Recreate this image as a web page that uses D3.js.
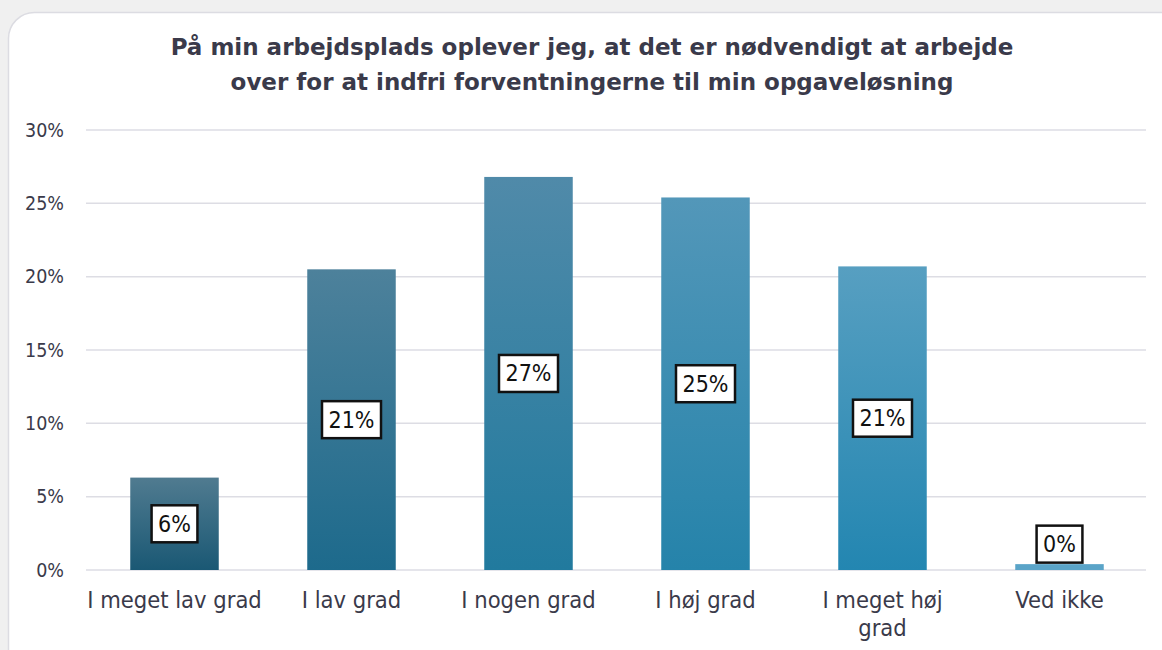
<!DOCTYPE html>
<html><head><meta charset="utf-8">
<script src="https://cdn.jsdelivr.net/npm/d3@7"></script>
<style>
html,body{margin:0;padding:0;background:#f0f0f0;}
svg{display:block;}
</style></head>
<body>
<svg id="chart" width="1162" height="650"></svg>
<script>
const categories = ["I meget lav grad", "I lav grad", "I nogen grad", "I høj grad", "I meget høj grad", "Ved ikke"];
const values = [6.3, 20.5, 26.8, 25.4, 20.7, 0.4];
const labels = ["6%", "21%", "27%", "25%", "21%", "0%"];
const yTicks = [0, 5, 10, 15, 20, 25, 30];
const topColors = ["#507b90", "#4d819b", "#508aa9", "#5397b9", "#579fc1", "#5aa4c8"];
const bottomColors = ["#1a5874", "#1d6a8c", "#217a9e", "#2583aa", "#2386b1", "#5aa4c8"];
const titleLines = ["På min arbejdsplads oplever jeg, at det er nødvendigt at arbejde", "over for at indfri forventningerne til min opgaveløsning"];

const svg = d3.select("#chart");
// card
svg.append("rect").attr("x", 8.5).attr("y", 12.5).attr("width", 1180).attr("height", 680)
  .attr("rx", 26).attr("fill", "#fff").attr("stroke", "#dcdce2").attr("stroke-width", 1.5);

const defs = svg.append("defs");
categories.forEach((c, i) => {
  const g = defs.append("linearGradient").attr("id", "g" + i).attr("x1", 0).attr("y1", 0).attr("x2", 0).attr("y2", 1);
  g.append("stop").attr("offset", "0%").attr("stop-color", topColors[i]);
  g.append("stop").attr("offset", "100%").attr("stop-color", bottomColors[i]);
});

const x = d3.scaleBand().domain(categories).range([86, 1148]).paddingInner(0.5).paddingOuter(0.25);
const y = d3.scaleLinear().domain([0, 30]).range([570, 130]);

// title
svg.append("text").attr("x", 592).attr("font-family", "DejaVu Sans").attr("font-weight", "bold")
  .attr("font-size", 23).attr("fill", "#3a3a4a").attr("text-anchor", "middle")
  .selectAll("tspan").data(titleLines).join("tspan")
  .attr("x", 592).attr("y", (d, i) => 55 + i * 35).text(d => d);

// grid
const grid = svg.append("g").attr("class", "grid");
grid.selectAll("line").data(yTicks).join("line")
  .attr("x1", 86).attr("x2", 1146).attr("y1", d => y(d)).attr("y2", d => y(d))
  .attr("stroke", "#dddde4").attr("stroke-width", 1.5);

// y axis
const yAxis = d3.axisLeft(y).tickValues(yTicks).tickFormat(d => d + "%").tickSize(0).tickPadding(0);
const ya = svg.append("g").attr("transform", "translate(64,0)").call(yAxis);
ya.select(".domain").remove();
ya.selectAll("text").attr("font-family", "DejaVu Sans Condensed, DejaVu Sans").attr("font-size", 19.5)
  .attr("fill", "#3a3a4a");

// bars
svg.append("g").selectAll("rect").data(values).join("rect")
  .attr("x", (d, i) => x(categories[i])).attr("width", x.bandwidth())
  .attr("y", d => y(d)).attr("height", d => y(0) - y(d))
  .attr("fill", (d, i) => "url(#g" + i + ")");

// x axis
const xAxis = d3.axisBottom(x).tickSize(0).tickPadding(0);
const xa = svg.append("g").attr("transform", "translate(0,586)").call(xAxis);
xa.select(".domain").remove();
xa.selectAll("text").attr("font-family", "DejaVu Sans Condensed, DejaVu Sans").attr("font-size", 23.5)
  .attr("fill", "#3a3a4a").each(function(d) {
    const t = d3.select(this);
    const txt = d === "I meget høj grad" ? ["I meget høj", "grad"] : [d];
    t.text(null);
    txt.forEach((s, k) => t.append("tspan").attr("x", 0).attr("dy", k === 0 ? "0.92em" : "28").text(s));
  });

// labels
const lg = svg.append("g");
values.forEach((v, i) => {
  const cx = x(categories[i]) + x.bandwidth() / 2;
  const small = (y(0) - y(v)) < 50;
  const cy = small ? y(v) - 20 : (y(v) + y(0)) / 2;
  const t = lg.append("text").attr("x", cx).attr("y", cy).attr("text-anchor", "middle")
    .attr("dominant-baseline", "central").attr("font-family", "Liberation Sans Narrow, DejaVu Sans Condensed")
    .attr("font-size", 23).attr("fill", "#111").text(labels[i]);
  const bb = t.node().getBBox();
  const w = bb.width + 13, h = 37;
  lg.insert("rect", "text").attr("x", cx - w / 2).attr("y", cy - h / 2).attr("width", w).attr("height", h)
    .attr("fill", "#fff").attr("stroke", "#111").attr("stroke-width", 2.5);
});
</script>
</body></html>
